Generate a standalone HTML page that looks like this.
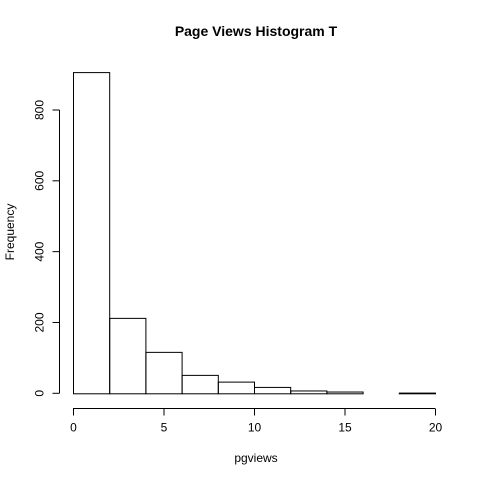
<!DOCTYPE html>
<html><head><meta charset="utf-8"><style>
body{margin:0;background:#fff}
svg text{font-family:"Liberation Sans",Arial,sans-serif;font-size:12px;fill:#000}
</style></head><body>
<svg width="480" height="480">
<text x="256" y="36" text-anchor="middle" style="font-weight:bold;font-size:14px">Page Views Histogram T</text>
<text x="256" y="462" text-anchor="middle">pgviews</text>
<text transform="translate(14,232) rotate(-90)" text-anchor="middle">Frequency</text>
<g id="bars"></g><g id="xaxis"></g><g id="yaxis"></g>
</svg>
<script>
const binEdges=[0,2,4,6,8,10,12,14,16,18,20];
const counts=[907,213,117,52,33,18,8,5,0,2];
const xTicks=[0,5,10,15,20];
const yTicks=[0,200,400,600,800];
const NS='http://www.w3.org/2000/svg';
const x=v=>73+v*(435-73)/20;
const y=v=>393.3-v*(283.3/800);
function mk(t,a,p){const e=document.createElementNS(NS,t);for(const k in a)e.setAttribute(k,a[k]);p.appendChild(e);return e;}
const bars=document.getElementById('bars');
counts.forEach((c,i)=>{
  const r=mk('rect',{x:x(binEdges[i])+0.5,y:y(c)+0.5,width:x(binEdges[i+1])-x(binEdges[i]),height:y(0)-y(c),fill:'none',stroke:'#000','stroke-width':1},bars);
  
  
});
const xa=document.getElementById('xaxis');
const AY=408.5;
mk('line',{x1:x(xTicks[0]),x2:x(xTicks[xTicks.length-1]),y1:AY,y2:AY,stroke:'#000'},xa);
xTicks.forEach(t=>{
  mk('line',{x1:x(t)+0.5,x2:x(t)+0.5,y1:AY,y2:AY+7,stroke:'#000'},xa);
  const tx=mk('text',{x:x(t)+0.5,y:AY+23,'text-anchor':'middle'},xa);tx.textContent=t;
  
  
});
const ya=document.getElementById('yaxis');
const AX=59.5;
mk('line',{x1:AX,x2:AX,y1:y(yTicks[0]),y2:y(yTicks[yTicks.length-1]),stroke:'#000'},ya);
yTicks.forEach(t=>{
  mk('line',{x1:AX-7,x2:AX,y1:y(t),y2:y(t),stroke:'#000'},ya);
  const tx=mk('text',{transform:`translate(${AX-16},${y(t)}) rotate(-90)`,'text-anchor':'middle'},ya);tx.textContent=t;
  
  
});
</script>
</body></html>
